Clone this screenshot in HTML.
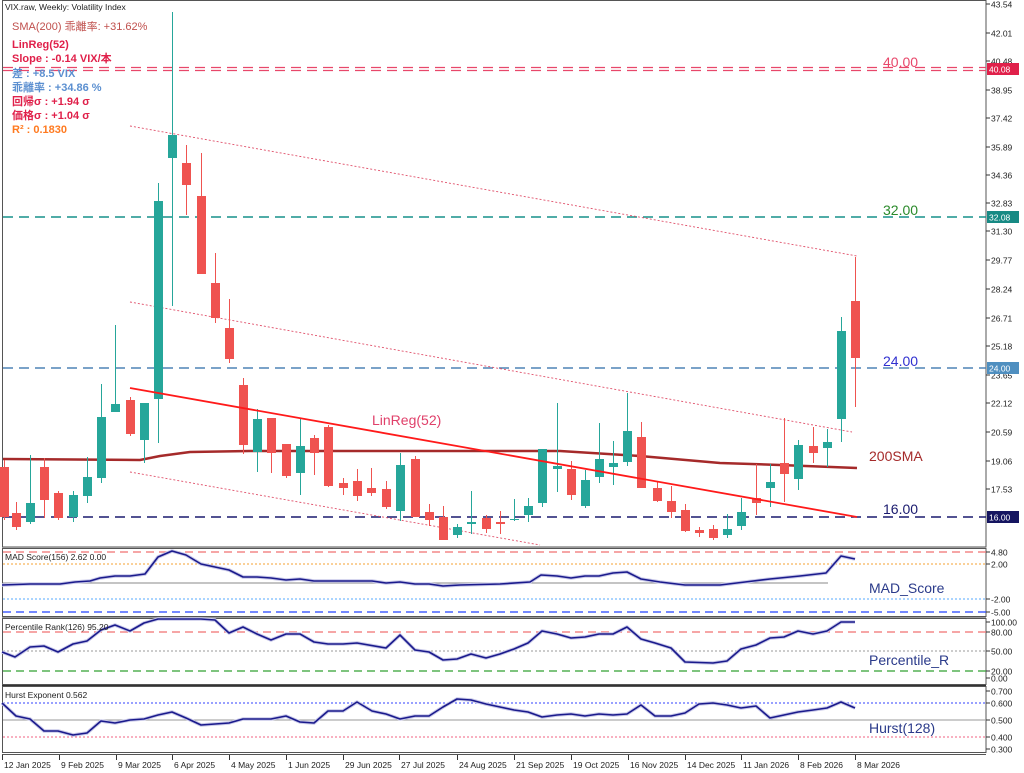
<!DOCTYPE html>
<html><head><meta charset="utf-8"><style>
body{margin:0;background:#fff;}
svg{display:block;font-family:"Liberation Sans","Noto Sans CJK JP",sans-serif;}
</style></head><body>
<svg id="s" width="1024" height="773" viewBox="0 0 1024 773" xmlns="http://www.w3.org/2000/svg">
<rect width="1024" height="773" fill="#fff"/>
<!-- panel borders -->
<rect x="2.5" y="0.5" width="983.5" height="546.5" fill="none" stroke="#555"/>
<rect x="2.5" y="548.5" width="983.5" height="68" fill="none" stroke="#555"/>
<rect x="2.5" y="618.5" width="983.5" height="66" fill="none" stroke="#555"/>
<rect x="2.5" y="686.5" width="983.5" height="66" fill="none" stroke="#555"/>
<line x1="2" y1="547.5" x2="986" y2="547.5" stroke="#999"/>
<line x1="2" y1="617.5" x2="986" y2="617.5" stroke="#999"/>
<line x1="2" y1="685.5" x2="986" y2="685.5" stroke="#333"/>
<line x1="2" y1="754.5" x2="986" y2="754.5" stroke="#555"/>
<g id="main"></g>
<g id="txt" font-size="10" fill="#222"></g>
</svg>
<script>
const NS="http://www.w3.org/2000/svg";
const M=document.getElementById('main'),T=document.getElementById('txt');
function el(p,tag,a,txt){const e=document.createElementNS(NS,tag);for(const k in a)e.setAttribute(k,a[k]);if(txt!==undefined)e.textContent=txt;p.appendChild(e);return e;}
function line(x1,y1,x2,y2,c,w,d){el(M,'line',{x1,y1,x2,y2,stroke:c,'stroke-width':w||1,'stroke-dasharray':d||'none'});}
function poly(pts,c,w,d){el(M,'polyline',{points:pts.map(p=>p.join(',')).join(' '),fill:'none',stroke:c,'stroke-width':w||1,'stroke-dasharray':d||'none','stroke-linejoin':'round'});}
function text(x,y,s,c,sz,anchor,fw){el(T,'text',{x,y,fill:c,'font-size':sz||10,'text-anchor':anchor||'start','font-weight':fw||'normal'},s);}
// horizontal levels main
line(3,67.5,986,67.5,'#e8476a',1.3,'10,6');line(3,70.5,986,70.5,'#e8476a',1.3,'10,6');
line(3,217,986,217,'#16918a',1.6,'10,6');
line(3,368,986,368,'#4f83b5',1.6,'10,6');
line(3,517,986,517,'#1a1a6e',1.6,'10,6');
// channel dotted
line(130,126,857,256,'#e0506a',0.9,'2,2');
line(130,302,852,432,'#e0506a',0.9,'2,2');
line(130,472,540,545,'#e0506a',0.9,'2,2');
// 200SMA
poly([[3,459],[140,460],[160,456],[190,452],[250,451],[400,451],[560,451],[640,456],[720,463],[780,465],[857,468]],'#a52a2a',2.5);
// candles: x, bodyTop, bodyBot, wickTop, wickBot, g/r
const C=[[4,467,517,460,520,'r'],[16,513,527,502,530,'r'],[30,503,522,455,524,'g'],[44,467,500,458,518,'r'],[58,493,518,491,520,'r'],[73,495,517,491,522,'g'],[87,477,496,457,503,'g'],[101,417,478,384,483,'g'],[115,404,412,325,412,'g'],[130,400,434,397,436,'r'],[144,403,440,403,463,'g'],[158,201,399,183,443,'g'],[172,135,158,12,306,'g'],[186,163,185,145,215,'r'],[201,196,274,153,274,'r'],[215,283,318,253,323,'r'],[229,328,359,299,363,'r'],[243,385,445,378,454,'r'],[257,419,452,409,472,'g'],[271,418,453,418,473,'r'],[286,444,476,444,478,'r'],[300,446,473,419,495,'g'],[314,438,453,435,475,'r'],[328,427,486,425,487,'r'],[343,483,488,478,495,'r'],[357,481,496,469,501,'r'],[371,488,493,468,496,'r'],[386,489,507,481,509,'r'],[400,465,511,453,521,'g'],[415,459,517,456,517,'r'],[429,512,520,504,526,'r'],[443,517,540,506,540,'r'],[457,527,535,524,538,'g'],[471,522,524,491,534,'g'],[486,518,529,515,533,'r'],[500,522,524,511,534,'r'],[514,519,520,499,521,'g'],[528,506,515,498,522,'g'],[542,449,503,449,507,'g'],[557,466,469,403,492,'g'],[571,469,495,461,500,'r'],[585,480,506,470,508,'g'],[599,459,477,423,483,'g'],[613,463,467,441,485,'g'],[627,431,462,393,466,'g'],[641,437,488,422,488,'r'],[657,488,501,482,502,'r'],[671,501,512,486,518,'r'],[685,510,531,504,532,'r'],[699,530,533,527,537,'r'],[713,529,538,525,540,'r'],[727,529,535,514,538,'g'],[741,512,526,498,530,'g'],[756,498,503,464,515,'r'],[770,482,488,464,507,'g'],[784,463,474,418,502,'r'],[798,445,479,440,490,'g'],[813,446,453,427,463,'r'],[827,442,448,429,467,'g'],[841,331,419,317,442,'g'],[855,301,358,257,407,'r']];
C.forEach(c=>{const col=c[5]=='g'?'#26a69a':'#ef5350';
 line(c[0]+0.5,c[3],c[0]+0.5,c[4],col,1);
 el(M,'rect',{x:c[0]-4,y:c[1],width:9,height:Math.max(1,c[2]-c[1]),fill:col});});
// LinReg
line(130,388,857,517,'#ff1a1a',1.8);
// sub panels levels
line(3,552,986,552,'#f07070',1.2,'8,5');line(3,564,986,564,'#f5a030',1,'2,2');
line(3,583,828,583,'#888',1);line(3,599,986,599,'#55aaff',1,'2,2');line(3,612,986,612,'#2040ff',1.2,'8,5');
line(3,632,986,632,'#f07070',1.2,'8,5');line(3,651,986,651,'#999',1,'2,2');line(3,671,986,671,'#30a030',1.2,'8,5');
line(3,703,986,703,'#3040ff',1,'2,2');line(3,720,986,720,'#999',1);line(3,737,986,737,'#f06080',1,'2,2');
const mad=[[2,585],[30,584],[60,584],[75,582],[90,581],[100,578],[115,576],[130,576],[145,574],[158,557],[172,551],[186,555],[201,564],[215,567],[229,570],[243,577],[257,577],[271,578],[286,580],[300,579],[314,581],[330,581],[372,581],[386,583],[400,582],[415,584],[429,584],[443,586],[460,585],[500,584],[530,582],[541,575],[557,576],[571,578],[585,576],[599,576],[613,573],[627,572],[641,579],[660,582],[685,585],[720,585],[745,582],[770,579],[800,576],[826,573],[841,556],[855,559]];
const pr=[[2,652],[15,657],[30,647],[44,646],[58,652],[73,644],[87,641],[101,630],[115,625],[130,631],[144,623],[158,619],[172,619],[186,619],[201,619],[215,620],[229,633],[243,627],[257,634],[271,640],[286,634],[300,634],[314,642],[328,644],[343,644],[357,643],[386,648],[400,635],[415,650],[429,652],[443,660],[457,659],[471,654],[486,658],[500,654],[514,649],[528,643],[542,631],[557,634],[571,638],[585,637],[599,634],[613,634],[627,627],[641,639],[655,643],[671,648],[685,662],[713,663],[727,661],[741,649],[756,645],[770,638],[784,637],[798,631],[813,634],[827,631],[841,622],[855,622]];
const hu=[[2,703],[16,716],[30,719],[44,731],[58,731],[73,735],[87,733],[101,721],[115,723],[130,720],[144,719],[158,715],[172,712],[186,718],[201,725],[215,724],[229,723],[243,719],[257,719],[271,719],[286,716],[300,722],[314,723],[328,711],[343,711],[357,702],[372,711],[386,714],[400,719],[415,716],[429,716],[443,707],[457,699],[471,700],[486,704],[500,707],[514,710],[528,712],[542,717],[557,715],[571,714],[585,716],[599,714],[613,715],[627,714],[641,705],[655,716],[671,716],[685,713],[699,704],[713,703],[727,705],[741,708],[756,706],[770,718],[784,715],[798,712],[813,710],[827,708],[841,702],[855,708]];
[mad,pr,hu].forEach(p=>{poly(p,'#c8c8e8',3.5);poly(p,'#1a1a8c',1.6);});
// right axis ticks & labels
const ax=[[43.54,4],[42.01,33],[40.48,61],[38.95,90],[37.42,118],[35.89,147],[34.36,175],[32.83,203],[31.30,231],[29.77,260],[28.24,289],[26.71,318],[25.18,346],[23.65,375],[22.12,403],[20.59,432],[19.06,461],[17.53,489]];
ax.forEach(a=>{line(986,a[1],990,a[1],'#333',1);text(991,a[1]+3.5,a[0].toFixed(2),'#222',8.5);});
function box(y,s,bg,fg){el(T,'rect',{x:987,y:y-6,width:32,height:12,fill:bg});text(989,y+3.5,s,fg||'#fff',8.5);}
box(69,'40.08','#e0204a');box(217,'32.08','#178a84');box(368,'24.00','#4f8fc0');box(517,'16.00','#151560');
const sub=[[552,'4.80'],[564,'2.00'],[599,'-2.00'],[612,'-5.00'],[622,'100.00'],[632,'80.00'],[651,'50.00'],[671,'20.00'],[678,'0.00'],[691,'0.700'],[703,'0.600'],[720,'0.500'],[737,'0.400'],[749,'0.300']];
sub.forEach(a=>{line(986,a[0],990,a[0],'#333',1);text(991,a[0]+3.5,a[1],'#222',8.5);});
// dates
const d=[[2,'12 Jan 2025'],[59,'9 Feb 2025'],[116,'9 Mar 2025'],[172,'6 Apr 2025'],[229,'4 May 2025'],[286,'1 Jun 2025'],[343,'29 Jun 2025'],[399,'27 Jul 2025'],[457,'24 Aug 2025'],[514,'21 Sep 2025'],[571,'19 Oct 2025'],[628,'16 Nov 2025'],[685,'14 Dec 2025'],[741,'11 Jan 2026'],[798,'8 Feb 2026'],[855,'8 Mar 2026']];
d.forEach(a=>{line(a[0]+0.5,755,a[0]+0.5,760,'#333',1);text(a[0]+2,768,a[1],'#222',8.5);});
// labels
text(5,10,'VIX.raw, Weekly:  Volatility Index','#222',8.5);
text(12,30,'SMA(200) 乖離率: +31.62%','#c0504d',11);
text(12,48,'LinReg(52)','#e0204a',11,'start','bold');
text(12,62,'Slope : -0.14 VIX/本','#e0204a',11,'start','bold');
text(12,77,'差    : +8.5 VIX','#5b8fd0',11,'start','bold');
text(12,91,'乖離率 : +34.86 %','#5b8fd0',11,'start','bold');
text(12,105,'回帰σ : +1.94 σ','#e0204a',11,'start','bold');
text(12,119,'価格σ : +1.04 σ','#e0204a',11,'start','bold');
text(12,133,'R²    : 0.1830','#ff7a20',11,'start','bold');
text(883,67,'40.00','#e8476a',14);
text(883,215,'32.00','#2a8a2a',14);
text(883,366,'24.00','#3030d0',14);
text(883,514,'16.00','#1a1a6e',14);
text(869,461,'200SMA','#a52a2a',14);
text(372,425,'LinReg(52)','#e0406a',14);
text(5,560,'MAD Score(156) 2.62 0.00','#222',8.5);
text(5,630,'Percentile Rank(126) 95.20','#222',8.5);
text(5,698,'Hurst Exponent 0.562','#222',8.5);
text(869,593,'MAD_Score','#2a3a8a',14);
text(869,665,'Percentile_R','#2a3a8a',14);
text(869,733,'Hurst(128)','#2a3a8a',14);
</script>
</body></html>
